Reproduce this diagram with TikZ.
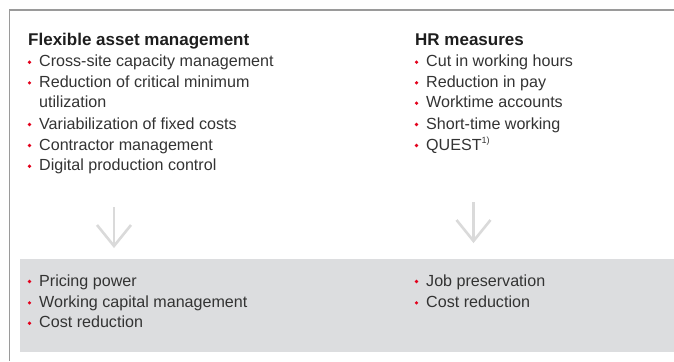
\documentclass[tikz,border=0pt]{standalone}
\usepackage{fontspec}
\setmainfont{Liberation Sans}
\usetikzlibrary{calc}
\definecolor{txt}{HTML}{333333}
\definecolor{hd}{HTML}{1E1E1E}
\definecolor{bulred}{HTML}{E3001B}
\definecolor{frame}{HTML}{9A9A9A}
\definecolor{boxgray}{HTML}{DCDDDF}
\definecolor{arrgray}{HTML}{DADADA}
\tikzset{
  itemtext/.style={anchor=base west, inner sep=0pt, text=txt, font=\fontsize{16.1bp}{20bp}\selectfont},
  headtext/.style={anchor=base west, inner sep=0pt, text=hd, font=\fontsize{17bp}{20bp}\selectfont\bfseries},
  bulletdot/.style={circle, fill=bulred, inner sep=0pt, minimum size=3.6bp},
  downarrow/.style={draw=arrgray, line width=2.6bp},
}
\newcommand{\bitem}[4]{% name, x, baseline y, text
  \node[itemtext] (#1) at (#2+11,#3) {#4};
  \node[bulletdot] (#1dot) at (#2+1.5,#3-4.5) {};
}
\begin{document}
\begin{tikzpicture}[x=1bp,y=-1bp]
\useasboundingbox (0,0) rectangle (674,361);
% frame
\coordinate (ftop) at (674,10);
\coordinate (fcorner) at (9.5,10);
\coordinate (fbot) at (9.5,361);
\draw[frame, line width=1.2bp] (ftop) -- (fcorner) -- (fbot);
% result box
\fill[boxgray] (20,259) rectangle (674,352);
% left column
\node[headtext] (lhead) at (28,45.7) {Flexible asset management};
\bitem{l1}{28}{66.7}{Cross-site capacity management}
\bitem{l2}{28}{87.3}{Reduction of critical minimum}
\node[itemtext] (l2b) at (39,107.7) {utilization};
\bitem{l3}{28}{129}{Variabilization of fixed costs}
\bitem{l4}{28}{150}{Contractor management}
\bitem{l5}{28}{170.7}{Digital production control}
% right column
\node[headtext] (rhead) at (415,45.7) {HR measures};
\bitem{r1}{415}{66.7}{Cut in working hours}
\bitem{r2}{415}{87.3}{Reduction in pay}
\bitem{r3}{415}{107.7}{Worktime accounts}
\bitem{r4}{415}{129}{Short-time working}
\bitem{r5}{415}{150}{QUEST\textsuperscript{\fontsize{9bp}{10bp}\selectfont 1)}}
% arrows
\coordinate (la) at (114,207);
\coordinate (lt) at (114,246);
\draw[downarrow] (la) -- (lt);
\draw[downarrow] ($(lt)+(-17,-21)$) -- (lt) -- ($(lt)+(17,-21)$);
\coordinate (ra) at (473.5,202);
\coordinate (rt) at (473.5,241);
\draw[downarrow] (ra) -- (rt);
\draw[downarrow] ($(rt)+(-17,-21)$) -- (rt) -- ($(rt)+(17,-21)$);
% results
\bitem{b1}{28}{286}{Pricing power}
\bitem{b2}{28}{307.3}{Working capital management}
\bitem{b3}{28}{327.7}{Cost reduction}
\bitem{c1}{415}{286}{Job preservation}
\bitem{c2}{415}{307.3}{Cost reduction}
\end{tikzpicture}
\end{document}
